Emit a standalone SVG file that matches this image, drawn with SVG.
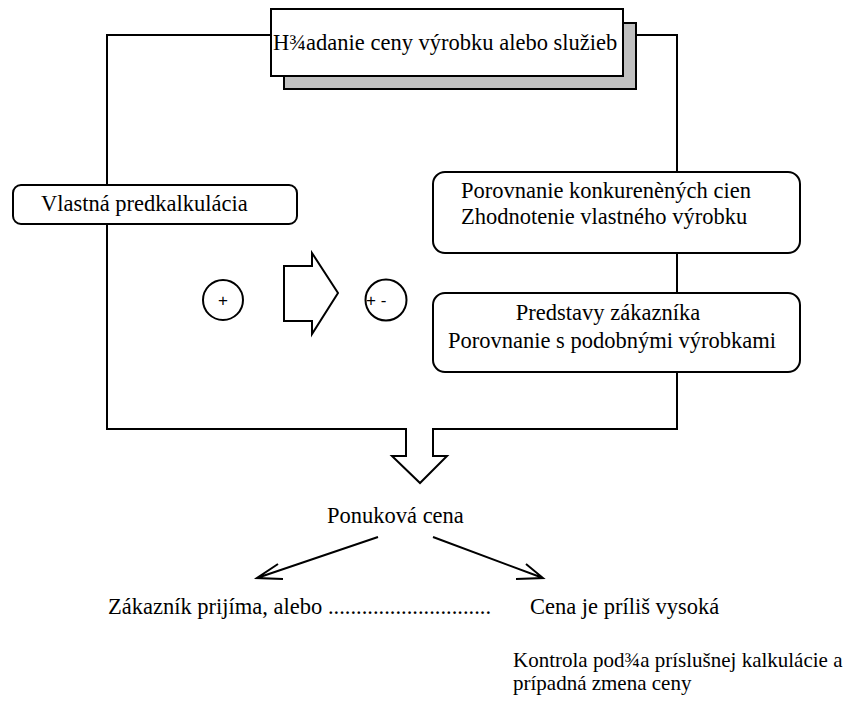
<svg xmlns="http://www.w3.org/2000/svg" width="848" height="705" viewBox="0 0 848 705">
<style>
text{fill:#000}
.t{font-size:22.5px}
.k{font-size:21px}
.s{font-size:17px}
.b{fill:#fff;stroke:#000;stroke-width:2}
.c{fill:none;stroke:#000;stroke-width:2}
</style>
<rect width="848" height="705" fill="#fff"/>
<g id="connectors">
<path class="c" d="M271,35 H107 V185"/>
<path class="c" d="M107,224 V429 H406 V456 H392 L420,483 L447,456 H433 V429 H677 V372"/>
<path class="c" d="M623,35 H677 V172"/>
<path class="c" d="M677,253 V293"/>
<path class="c" d="M378,537 L257,578 M278,564 L257,578 L283,579"/>
<path class="c" d="M433,537 L543,578 M526,564 L543,578 L516,579"/>
</g>
<g font-family="Liberation Serif, Times New Roman, serif">
<g id="title">
<rect x="284" y="23" width="352" height="66" fill="#c0c0c0" stroke="#000" stroke-width="2"/>
<rect class="b" x="271" y="9" width="352" height="67"/>
<text class="t" x="273" y="50">H¾adanie ceny výrobku alebo služieb</text>
</g>
<g id="vlastna">
<rect class="b" x="13" y="185" width="284" height="39" rx="8"/>
<text class="t" x="41" y="211">Vlastná predkalkulácia</text>
</g>
<g id="porovnanie">
<rect class="b" x="433" y="172" width="367" height="81" rx="12"/>
<text class="t" x="461" y="198">Porovnanie konkurenèných cien</text>
<text class="t" x="461" y="224">Zhodnotenie vlastného výrobku</text>
</g>
<g id="predstavy">
<rect class="b" x="433" y="293" width="367" height="79" rx="12"/>
<text class="t" x="608" y="320" text-anchor="middle">Predstavy zákazníka</text>
<text class="t" x="612" y="348" text-anchor="middle">Porovnanie s podobnými výrobkami</text>
</g>
<g id="ponukova">
<text class="t" x="327" y="523">Ponuková cena</text>
</g>
<g id="prijima">
<text class="t" x="108" y="614">Zákazník prijíma, alebo .............................</text>
</g>
<g id="vysoka">
<text class="t" x="530" y="614">Cena je príliš vysoká</text>
</g>
<g id="kontrola">
<text class="k" x="513" y="667">Kontrola pod¾a príslušnej kalkulácie a</text>
<text class="k" x="513" y="690">prípadná zmena ceny</text>
</g>
</g>
<g font-family="Liberation Sans, Arial, sans-serif">
<g id="plus">
<circle class="b" cx="223" cy="300" r="20"/>
<text class="s" x="223" y="306" text-anchor="middle">+</text>
</g>
<g id="bigarrow">
<path class="b" d="M284,266 H312 V253 L338,293 L312,334 V321 H284 Z"/>
</g>
<g id="plusminus">
<circle class="b" cx="386" cy="300" r="20.5"/>
<text class="s" x="366" y="306">+ -</text>
</g>
</g>
</svg>
